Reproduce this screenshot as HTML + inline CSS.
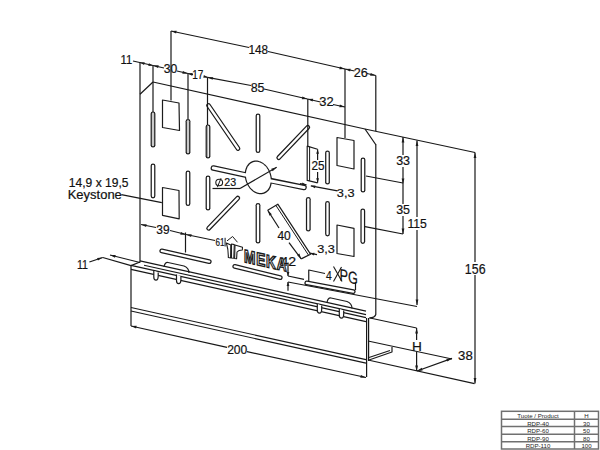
<!DOCTYPE html>
<html><head><meta charset="utf-8"><style>
html,body{margin:0;padding:0;background:#fff;}
svg{display:block;}
text{font-family:"Liberation Sans",sans-serif;fill:#111;stroke:#111;stroke-width:0.2px;}
</style></head><body>
<svg width="600" height="450" viewBox="0 0 600 450">
<rect width="600" height="450" fill="#fff"/>
<line x1="153" y1="82" x2="365" y2="129" stroke="#181818" stroke-width="1.2"/>
<line x1="153" y1="82" x2="140" y2="94.3" stroke="#181818" stroke-width="1.2"/>
<line x1="140" y1="62" x2="140" y2="262.5" stroke="#181818" stroke-width="1.2"/>
<line x1="365" y1="129" x2="376" y2="145" stroke="#181818" stroke-width="1.2"/>
<line x1="375.8" y1="75.5" x2="375.8" y2="131" stroke="#181818" stroke-width="1.2"/>
<line x1="375.8" y1="144.5" x2="375.8" y2="314" stroke="#181818" stroke-width="1.2"/>
<line x1="365" y1="129" x2="475" y2="152.5" stroke="#181818" stroke-width="1.2"/>
<path d="M162.5,100 L179,103 L179.5,130.5 L162.5,127.5 Z" stroke="#1c1c1c" stroke-width="1.2" fill="none" stroke-linejoin="round"/>
<path d="M162.5,187.5 L179,190.5 L179.2,218.8 L162.5,215.3 Z" stroke="#1c1c1c" stroke-width="1.2" fill="none" stroke-linejoin="round"/>
<path d="M337,137.5 L354,140.5 L354,169 L337,165.5 Z" stroke="#1c1c1c" stroke-width="1.2" fill="none" stroke-linejoin="round"/>
<path d="M337,225 L354,228.3 L354,256.5 L337,253.5 Z" stroke="#1c1c1c" stroke-width="1.2" fill="none" stroke-linejoin="round"/>
<line x1="153.0" y1="113.8" x2="153.0" y2="145.2" stroke="#1c1c1c" stroke-width="4.8" stroke-linecap="round"/>
<line x1="153.0" y1="113.8" x2="153.0" y2="145.2" stroke="#fff" stroke-width="2.3" stroke-linecap="round"/>
<line x1="188.0" y1="121.3" x2="188.0" y2="152.2" stroke="#1c1c1c" stroke-width="4.8" stroke-linecap="round"/>
<line x1="188.0" y1="121.3" x2="188.0" y2="152.2" stroke="#fff" stroke-width="2.3" stroke-linecap="round"/>
<line x1="208.0" y1="126.8" x2="208.0" y2="156.2" stroke="#1c1c1c" stroke-width="4.8" stroke-linecap="round"/>
<line x1="208.0" y1="126.8" x2="208.0" y2="156.2" stroke="#fff" stroke-width="2.3" stroke-linecap="round"/>
<line x1="258.0" y1="115.8" x2="258.0" y2="150.7" stroke="#1c1c1c" stroke-width="4.8" stroke-linecap="round"/>
<line x1="258.0" y1="115.8" x2="258.0" y2="150.7" stroke="#fff" stroke-width="2.3" stroke-linecap="round"/>
<line x1="327.5" y1="152.8" x2="327.5" y2="182.2" stroke="#1c1c1c" stroke-width="4.8" stroke-linecap="round"/>
<line x1="327.5" y1="152.8" x2="327.5" y2="182.2" stroke="#fff" stroke-width="2.3" stroke-linecap="round"/>
<line x1="363.0" y1="159.8" x2="363.0" y2="190.2" stroke="#1c1c1c" stroke-width="4.8" stroke-linecap="round"/>
<line x1="363.0" y1="159.8" x2="363.0" y2="190.2" stroke="#fff" stroke-width="2.3" stroke-linecap="round"/>
<line x1="153.0" y1="165.8" x2="153.0" y2="196.0" stroke="#1c1c1c" stroke-width="4.8" stroke-linecap="round"/>
<line x1="153.0" y1="165.8" x2="153.0" y2="196.0" stroke="#fff" stroke-width="2.3" stroke-linecap="round"/>
<line x1="188.0" y1="172.8" x2="188.0" y2="203.7" stroke="#1c1c1c" stroke-width="4.8" stroke-linecap="round"/>
<line x1="188.0" y1="172.8" x2="188.0" y2="203.7" stroke="#fff" stroke-width="2.3" stroke-linecap="round"/>
<line x1="208.0" y1="177.8" x2="208.0" y2="208.2" stroke="#1c1c1c" stroke-width="4.8" stroke-linecap="round"/>
<line x1="208.0" y1="177.8" x2="208.0" y2="208.2" stroke="#fff" stroke-width="2.3" stroke-linecap="round"/>
<line x1="258.0" y1="205.3" x2="258.0" y2="241.2" stroke="#1c1c1c" stroke-width="4.8" stroke-linecap="round"/>
<line x1="258.0" y1="205.3" x2="258.0" y2="241.2" stroke="#fff" stroke-width="2.3" stroke-linecap="round"/>
<line x1="308.3" y1="199.3" x2="308.3" y2="229.2" stroke="#1c1c1c" stroke-width="4.8" stroke-linecap="round"/>
<line x1="308.3" y1="199.3" x2="308.3" y2="229.2" stroke="#fff" stroke-width="2.3" stroke-linecap="round"/>
<line x1="327.5" y1="203.5" x2="327.5" y2="234.0" stroke="#1c1c1c" stroke-width="4.8" stroke-linecap="round"/>
<line x1="327.5" y1="203.5" x2="327.5" y2="234.0" stroke="#fff" stroke-width="2.3" stroke-linecap="round"/>
<line x1="362.8" y1="210.8" x2="362.8" y2="241.5" stroke="#1c1c1c" stroke-width="4.8" stroke-linecap="round"/>
<line x1="362.8" y1="210.8" x2="362.8" y2="241.5" stroke="#fff" stroke-width="2.3" stroke-linecap="round"/>
<path d="M317.6,149.2 L307.2,146.1 L307.2,180.4 L317.6,182.8" stroke="#1c1c1c" stroke-width="1.2" fill="none" stroke-linejoin="round"/>
<line x1="309.6" y1="146.6" x2="309.6" y2="180.9" stroke="#181818" stroke-width="1.0"/>
<line x1="208.52" y1="105.49" x2="237.98" y2="148.51" stroke="#1c1c1c" stroke-width="4.8" stroke-linecap="round"/>
<line x1="208.52" y1="105.49" x2="237.98" y2="148.51" stroke="#fff" stroke-width="2.3" stroke-linecap="round"/>
<line x1="307.76" y1="127.3" x2="278.74" y2="157.7" stroke="#1c1c1c" stroke-width="4.8" stroke-linecap="round"/>
<line x1="307.76" y1="127.3" x2="278.74" y2="157.7" stroke="#fff" stroke-width="2.3" stroke-linecap="round"/>
<line x1="237.75" y1="198.1" x2="208.65" y2="228.3" stroke="#1c1c1c" stroke-width="4.8" stroke-linecap="round"/>
<line x1="237.75" y1="198.1" x2="208.65" y2="228.3" stroke="#fff" stroke-width="2.3" stroke-linecap="round"/>
<path d="M267.7,210.3 L277.8,204.2 L310.5,254.2 L301.2,258.9" stroke="#1c1c1c" stroke-width="1.2" fill="none" stroke-linejoin="round"/>
<line x1="275.9" y1="205.4" x2="308.6" y2="255.3" stroke="#181818" stroke-width="1.0"/>
<line x1="213.4" y1="168" x2="250" y2="175.9" stroke="#1c1c1c" stroke-width="5.6" stroke-linecap="round"/>
<line x1="268" y1="180" x2="304" y2="187.5" stroke="#1c1c1c" stroke-width="5.6" stroke-linecap="round"/>
<path d="M271.9,180.42 L271.85,181.85 L271.69,183.26 L271.44,184.61 L271.08,185.91 L270.63,187.15 L270.08,188.31 L269.44,189.39 L268.72,190.38 L267.92,191.27 L267.04,192.06 L266.1,192.73 L265.1,193.29 L264.05,193.72 L262.95,194.03 L261.82,194.22 L260.66,194.27 L259.49,194.2 L258.3,194.0 L257.11,193.67 L255.94,193.22 L254.78,192.65 L253.65,191.97 L252.55,191.17 L251.5,190.27 L250.5,189.27 L249.56,188.18 L248.68,187.0 L247.88,185.76 L247.16,184.45 L246.52,183.09 L245.97,181.68 L245.52,180.24 L245.16,178.78 L244.91,177.31 L244.75,175.84 L244.7,174.38 L244.75,172.95 L244.91,171.54 L245.16,170.19 L245.52,168.89 L245.97,167.65 L246.52,166.49 L247.16,165.41 L247.88,164.42 L248.68,163.53 L249.56,162.74 L250.5,162.07 L251.5,161.51 L252.55,161.08 L253.65,160.77 L254.78,160.58 L255.94,160.53 L257.11,160.6 L258.3,160.8 L259.49,161.13 L260.66,161.58 L261.82,162.15 L262.95,162.83 L264.05,163.63 L265.1,164.53 L266.1,165.53 L267.04,166.62 L267.92,167.8 L268.72,169.04 L269.44,170.35 L270.08,171.71 L270.63,173.12 L271.08,174.56 L271.44,176.02 L271.69,177.49 L271.85,178.96 Z" fill="#1c1c1c"/>
<path d="M270.7,180.15 L270.65,181.48 L270.51,182.79 L270.28,184.04 L269.95,185.25 L269.54,186.4 L269.04,187.48 L268.46,188.49 L267.8,189.41 L267.07,190.24 L266.27,190.97 L265.41,191.59 L264.5,192.11 L263.54,192.52 L262.54,192.81 L261.51,192.99 L260.45,193.04 L259.38,192.98 L258.3,192.8 L257.22,192.5 L256.15,192.09 L255.09,191.56 L254.06,190.93 L253.06,190.19 L252.1,189.36 L251.19,188.44 L250.33,187.43 L249.53,186.34 L248.8,185.19 L248.14,183.98 L247.56,182.72 L247.06,181.41 L246.65,180.08 L246.32,178.73 L246.09,177.36 L245.95,176.0 L245.9,174.65 L245.95,173.32 L246.09,172.01 L246.32,170.76 L246.65,169.55 L247.06,168.4 L247.56,167.32 L248.14,166.31 L248.8,165.39 L249.53,164.56 L250.33,163.83 L251.19,163.21 L252.1,162.69 L253.06,162.28 L254.06,161.99 L255.09,161.81 L256.15,161.76 L257.22,161.82 L258.3,162.0 L259.38,162.3 L260.45,162.71 L261.51,163.24 L262.54,163.87 L263.54,164.61 L264.5,165.44 L265.41,166.36 L266.27,167.37 L267.07,168.46 L267.8,169.61 L268.46,170.82 L269.04,172.08 L269.54,173.39 L269.95,174.72 L270.28,176.07 L270.51,177.44 L270.65,178.8 Z" fill="#fff"/>
<line x1="213.4" y1="168" x2="250" y2="175.9" stroke="#fff" stroke-width="3.2" stroke-linecap="round"/>
<line x1="266" y1="180" x2="304" y2="187.5" stroke="#fff" stroke-width="3.2" stroke-linecap="round"/>
<line x1="161.76" y1="250.9" x2="209.24" y2="261.6" stroke="#1c1c1c" stroke-width="4.8" stroke-linecap="round"/>
<line x1="161.76" y1="250.9" x2="209.24" y2="261.6" stroke="#fff" stroke-width="2.3" stroke-linecap="round"/>
<line x1="234.75" y1="266.43" x2="280.25" y2="277.57" stroke="#1c1c1c" stroke-width="4.8" stroke-linecap="round"/>
<line x1="234.75" y1="266.43" x2="280.25" y2="277.57" stroke="#fff" stroke-width="2.3" stroke-linecap="round"/>
<line x1="306.77" y1="282.84" x2="353.23" y2="291.66" stroke="#1c1c1c" stroke-width="4.8" stroke-linecap="round"/>
<line x1="306.77" y1="282.84" x2="353.23" y2="291.66" stroke="#fff" stroke-width="2.3" stroke-linecap="round"/>
<line x1="140" y1="260.9" x2="366" y2="311.072" stroke="#181818" stroke-width="1.2"/>
<line x1="144" y1="265.288" x2="366" y2="314.572" stroke="#181818" stroke-width="1.2"/>
<line x1="131" y1="265.402" x2="366" y2="317.572" stroke="#181818" stroke-width="1.2"/>
<line x1="131" y1="269.402" x2="366" y2="321.572" stroke="#181818" stroke-width="1.2"/>
<line x1="131" y1="265.6" x2="140" y2="262" stroke="#181818" stroke-width="1.2"/>
<line x1="131" y1="265.6" x2="131" y2="326" stroke="#181818" stroke-width="1.2"/>
<line x1="131" y1="307.5" x2="366" y2="359.67" stroke="#181818" stroke-width="1.2"/>
<line x1="131" y1="311" x2="366" y2="363.17" stroke="#181818" stroke-width="1.2"/>
<line x1="131" y1="326" x2="227" y2="347.3" stroke="#181818" stroke-width="1.2"/>
<line x1="247" y1="351.7" x2="366" y2="377.5" stroke="#181818" stroke-width="1.2"/>
<path d="M131.00,326.00 L136.67,325.83 L136.07,328.56 Z" fill="#1c1c1c"/>
<path d="M366.00,377.50 L360.33,377.67 L360.93,374.94 Z" fill="#1c1c1c"/>
<text transform="translate(227.14,354.00) scale(0.929,1)" x="0" y="0" font-size="13.05" >200</text>
<line x1="366.6" y1="318" x2="366.6" y2="377" stroke="#181818" stroke-width="1.2"/>
<line x1="368.6" y1="318" x2="368.6" y2="361" stroke="#181818" stroke-width="1.2"/>
<path d="M376,314 Q375,318 369,318" stroke="#1c1c1c" stroke-width="1.2" fill="none" stroke-linejoin="round"/>
<line x1="370" y1="318" x2="416.6" y2="328" stroke="#181818" stroke-width="1.2"/>
<line x1="368" y1="341" x2="452" y2="359" stroke="#181818" stroke-width="1.2"/>
<line x1="368" y1="360" x2="474.5" y2="383.6" stroke="#181818" stroke-width="1.2"/>
<path d="M369,360 L392,352 L392,347" stroke="#1c1c1c" stroke-width="1.2" fill="none" stroke-linejoin="round"/>
<path d="M369,357.5 L390,350.5" stroke="#1c1c1c" stroke-width="1.2" fill="none" stroke-linejoin="round"/>
<path d="M164,267 Q165,262 168,262.5 L184,266 Q189,268 189,273" stroke="#1c1c1c" stroke-width="1.2" fill="none" stroke-linejoin="round"/>
<path d="M327,302.5 Q328,297.5 331,298.0 L347,301.5 Q352,303.5 352,308.5" stroke="#1c1c1c" stroke-width="1.2" fill="none" stroke-linejoin="round"/>
<path d="M153.8,271 L153.8,277 Q153.8,280.2 156,280.2 Q158.2,280.2 158.2,276 L158.2,272.5" stroke="#1c1c1c" stroke-width="1.2" fill="#fff" stroke-linejoin="round"/>
<path d="M176.5,274.5 L176.5,280.5 Q176.5,283.7 178.7,283.7 Q180.89999999999998,283.7 180.89999999999998,279.5 L180.89999999999998,276.0" stroke="#1c1c1c" stroke-width="1.2" fill="#fff" stroke-linejoin="round"/>
<path d="M317.3,304 L317.3,310 Q317.3,313.2 319.5,313.2 Q321.7,313.2 321.7,309 L321.7,305.5" stroke="#1c1c1c" stroke-width="1.2" fill="#fff" stroke-linejoin="round"/>
<path d="M339.3,309 L339.3,315 Q339.3,318.2 341.5,318.2 Q343.7,318.2 343.7,314 L343.7,310.5" stroke="#1c1c1c" stroke-width="1.2" fill="#fff" stroke-linejoin="round"/>
<line x1="133" y1="61" x2="153" y2="65.5" stroke="#181818" stroke-width="1.2"/>
<path d="M140.00,62.60 L144.70,62.21 L144.09,64.94 Z" fill="#1c1c1c"/>
<path d="M153.00,65.50 L148.30,65.89 L148.91,63.16 Z" fill="#1c1c1c"/>
<path d="M153.00,65.50 L158.67,65.33 L158.07,68.06 Z" fill="#1c1c1c"/>
<line x1="153" y1="65.5" x2="164" y2="68" stroke="#181818" stroke-width="1.2"/>
<line x1="177" y1="71" x2="188" y2="73.5" stroke="#181818" stroke-width="1.2"/>
<path d="M188.00,73.50 L182.33,73.67 L182.93,70.94 Z" fill="#1c1c1c"/>
<path d="M188.00,73.50 L192.70,73.11 L192.09,75.84 Z" fill="#1c1c1c"/>
<line x1="188" y1="73.5" x2="193" y2="74.6" stroke="#181818" stroke-width="1.2"/>
<line x1="204" y1="76.5" x2="207.5" y2="77.3" stroke="#181818" stroke-width="1.2"/>
<path d="M207.50,77.30 L213.17,77.13 L212.57,79.86 Z" fill="#1c1c1c"/>
<path d="M207.50,77.30 L203.29,77.80 L203.90,75.07 Z" fill="#1c1c1c"/>
<line x1="207.5" y1="77.3" x2="251" y2="85.5" stroke="#181818" stroke-width="1.2"/>
<line x1="264" y1="89" x2="307.5" y2="99" stroke="#181818" stroke-width="1.2"/>
<path d="M307.50,99.00 L301.83,99.17 L302.43,96.44 Z" fill="#1c1c1c"/>
<path d="M307.50,99.00 L313.17,98.83 L312.57,101.56 Z" fill="#1c1c1c"/>
<line x1="307.5" y1="99" x2="320.5" y2="102" stroke="#181818" stroke-width="1.2"/>
<line x1="333" y1="104.5" x2="345" y2="107" stroke="#181818" stroke-width="1.2"/>
<path d="M345.00,107.00 L339.33,107.17 L339.93,104.44 Z" fill="#1c1c1c"/>
<line x1="171" y1="31" x2="249" y2="47.5" stroke="#181818" stroke-width="1.2"/>
<line x1="268" y1="51.5" x2="345" y2="69" stroke="#181818" stroke-width="1.2"/>
<path d="M171.00,31.00 L176.67,30.83 L176.07,33.56 Z" fill="#1c1c1c"/>
<path d="M345.00,69.00 L339.33,69.17 L339.93,66.44 Z" fill="#1c1c1c"/>
<line x1="345" y1="69" x2="354.5" y2="71" stroke="#181818" stroke-width="1.2"/>
<line x1="367" y1="73.5" x2="375.8" y2="75.5" stroke="#181818" stroke-width="1.2"/>
<path d="M375.80,75.50 L370.13,75.67 L370.73,72.94 Z" fill="#1c1c1c"/>
<path d="M345.00,69.00 L350.67,68.83 L350.07,71.56 Z" fill="#1c1c1c"/>
<text transform="translate(120.46,63.50) scale(0.932,1)" x="0" y="0" font-size="12.07" >11</text>
<text transform="translate(163.64,73.20) scale(0.987,1)" x="0" y="0" font-size="12.33" >30</text>
<text transform="translate(192.25,79.30) scale(0.794,1)" x="0" y="0" font-size="12.65" >17</text>
<text transform="translate(250.67,92.40) scale(0.944,1)" x="0" y="0" font-size="13.19" >85</text>
<text transform="translate(319.32,106.40) scale(0.979,1)" x="0" y="0" font-size="13.19" >32</text>
<text transform="translate(248.42,54.40) scale(0.881,1)" x="0" y="0" font-size="13.33" >148</text>
<text transform="translate(353.67,77.20) scale(0.961,1)" x="0" y="0" font-size="13.19" >26</text>
<line x1="153" y1="65.5" x2="153" y2="112" stroke="#181818" stroke-width="1.2"/>
<line x1="171" y1="31" x2="171" y2="100.5" stroke="#181818" stroke-width="1.2"/>
<line x1="188" y1="73.5" x2="188" y2="119.5" stroke="#181818" stroke-width="1.2"/>
<line x1="207.5" y1="77.3" x2="207.5" y2="125" stroke="#181818" stroke-width="1.2"/>
<line x1="153" y1="112" x2="153" y2="146" stroke="#888" stroke-width="0.9"/>
<line x1="188" y1="119.5" x2="188" y2="153" stroke="#888" stroke-width="0.9"/>
<line x1="207.7" y1="125" x2="207.7" y2="157" stroke="#888" stroke-width="0.9"/>
<line x1="307.8" y1="99" x2="307.8" y2="146.2" stroke="#181818" stroke-width="1.2"/>
<line x1="345" y1="69" x2="345" y2="138" stroke="#181818" stroke-width="1.2"/>
<line x1="403" y1="137" x2="403" y2="155" stroke="#181818" stroke-width="1.2"/>
<line x1="403" y1="167" x2="403" y2="204" stroke="#181818" stroke-width="1.2"/>
<line x1="403" y1="216" x2="403" y2="234" stroke="#181818" stroke-width="1.2"/>
<path d="M403.00,137.00 L404.40,142.50 L401.60,142.50 Z" fill="#1c1c1c"/>
<path d="M403.00,184.00 L401.60,178.50 L404.40,178.50 Z" fill="#1c1c1c"/>
<path d="M403.00,234.00 L401.60,228.50 L404.40,228.50 Z" fill="#1c1c1c"/>
<line x1="366" y1="176" x2="403" y2="183" stroke="#181818" stroke-width="1.2"/>
<line x1="365" y1="226.7" x2="403" y2="234" stroke="#181818" stroke-width="1.2"/>
<text transform="translate(396.13,165.00) scale(0.993,1)" x="0" y="0" font-size="12.62" >33</text>
<text transform="translate(396.13,214.20) scale(0.968,1)" x="0" y="0" font-size="12.90" >35</text>
<line x1="417" y1="140.5" x2="417" y2="217" stroke="#181818" stroke-width="1.2"/>
<line x1="417" y1="230" x2="417" y2="305" stroke="#181818" stroke-width="1.2"/>
<path d="M417.00,140.50 L418.40,146.00 L415.60,146.00 Z" fill="#1c1c1c"/>
<path d="M417.00,305.00 L415.60,299.50 L418.40,299.50 Z" fill="#1c1c1c"/>
<line x1="288" y1="282" x2="417" y2="306.5" stroke="#181818" stroke-width="1.2"/>
<text transform="translate(407.39,227.90) scale(0.941,1)" x="0" y="0" font-size="12.95" >115</text>
<line x1="475" y1="152.5" x2="475" y2="262" stroke="#181818" stroke-width="1.2"/>
<line x1="475" y1="275" x2="475" y2="383.6" stroke="#181818" stroke-width="1.2"/>
<path d="M475.00,152.50 L476.40,158.00 L473.60,158.00 Z" fill="#1c1c1c"/>
<path d="M475.00,383.60 L473.60,378.10 L476.40,378.10 Z" fill="#1c1c1c"/>
<text transform="translate(464.87,273.50) scale(0.900,1)" x="0" y="0" font-size="13.76" >156</text>
<line x1="416.6" y1="328" x2="416.6" y2="340" stroke="#181818" stroke-width="1.2"/>
<line x1="416.6" y1="352" x2="416.6" y2="371" stroke="#181818" stroke-width="1.2"/>
<path d="M416.60,328.00 L418.00,333.50 L415.20,333.50 Z" fill="#1c1c1c"/>
<path d="M416.60,371.00 L415.20,365.50 L418.00,365.50 Z" fill="#1c1c1c"/>
<text transform="translate(412.08,350.60) scale(1.065,1)" x="0" y="0" font-size="12.80" >H</text>
<line x1="417" y1="371" x2="452" y2="358.4" stroke="#181818" stroke-width="1.2"/>
<path d="M452.00,358.40 L447.30,361.58 L446.35,358.95 Z" fill="#1c1c1c"/>
<path d="M417.00,371.00 L421.70,367.82 L422.65,370.45 Z" fill="#1c1c1c"/>
<text transform="translate(458.10,360.10) scale(1.047,1)" x="0" y="0" font-size="12.62" >38</text>
<line x1="141" y1="224.5" x2="156" y2="227.5" stroke="#181818" stroke-width="1.2"/>
<path d="M141.00,224.50 L146.67,224.33 L146.07,227.06 Z" fill="#1c1c1c"/>
<text transform="translate(156.25,233.70) scale(0.938,1)" x="0" y="0" font-size="12.76" >39</text>
<line x1="170" y1="230.5" x2="186" y2="234.5" stroke="#181818" stroke-width="1.2"/>
<path d="M186.00,234.50 L180.33,234.67 L180.93,231.94 Z" fill="#1c1c1c"/>
<line x1="185.5" y1="232.5" x2="185.5" y2="252.5" stroke="#181818" stroke-width="1.2"/>
<line x1="186" y1="234.5" x2="215" y2="240.5" stroke="#181818" stroke-width="1.2"/>
<path d="M186.00,234.50 L191.67,234.33 L191.07,237.06 Z" fill="#1c1c1c"/>
<text transform="translate(215.60,246.30) scale(0.753,1)" x="0" y="0" font-size="10.75" >61</text>
<text transform="translate(76.95,268.50) scale(0.862,1)" x="0" y="0" font-size="12.36" >11</text>
<line x1="89.4" y1="262" x2="102.75" y2="257.5" stroke="#181818" stroke-width="1.2"/>
<line x1="102.75" y1="257.5" x2="131" y2="265.6" stroke="#181818" stroke-width="1.2"/>
<line x1="110" y1="255" x2="140" y2="262.5" stroke="#181818" stroke-width="1.2"/>
<path d="M110.00,255.00 L115.68,254.98 L115.00,257.69 Z" fill="#1c1c1c"/>
<path d="M102.75,257.50 L97.97,260.55 L97.09,257.89 Z" fill="#1c1c1c"/>
<line x1="317.6" y1="149.2" x2="317.6" y2="160" stroke="#181818" stroke-width="1.2"/>
<line x1="317.6" y1="172" x2="317.6" y2="182.8" stroke="#181818" stroke-width="1.2"/>
<path d="M317.60,149.20 L319.00,153.70 L316.20,153.70 Z" fill="#1c1c1c"/>
<path d="M317.60,182.80 L316.20,178.30 L319.00,178.30 Z" fill="#1c1c1c"/>
<text transform="translate(311.41,170.40) scale(0.902,1)" x="0" y="0" font-size="13.05" >25</text>
<line x1="310.8" y1="185.8" x2="337.5" y2="190.8" stroke="#181818" stroke-width="1.2"/>
<path d="M310.80,185.80 L315.50,185.41 L314.89,188.14 Z" fill="#1c1c1c"/>
<line x1="300" y1="183.5" x2="306.5" y2="184.9" stroke="#181818" stroke-width="1.2"/>
<path d="M306.50,184.90 L301.80,185.29 L302.41,182.56 Z" fill="#1c1c1c"/>
<text transform="translate(336.82,197.20) scale(1.126,1)" x="0" y="0" font-size="11.33" >3,3</text>
<text transform="translate(317.22,252.60) scale(1.119,1)" x="0" y="0" font-size="11.33" >3,3</text>
<line x1="309.8" y1="253.2" x2="317" y2="254.6" stroke="#181818" stroke-width="1.2"/>
<path d="M309.80,253.20 L314.49,252.71 L313.94,255.46 Z" fill="#1c1c1c"/>
<line x1="267.7" y1="210.3" x2="279" y2="228" stroke="#181818" stroke-width="1.2"/>
<line x1="289" y1="242.7" x2="301.2" y2="258.9" stroke="#181818" stroke-width="1.2"/>
<path d="M267.70,210.30 L271.85,214.17 L269.50,215.68 Z" fill="#1c1c1c"/>
<path d="M301.20,258.90 L297.05,255.03 L299.40,253.52 Z" fill="#1c1c1c"/>
<text transform="translate(277.43,239.60) scale(0.973,1)" x="0" y="0" font-size="12.33" >40</text>
<text transform="translate(280.48,265.50) scale(1.074,1)" x="0" y="0" font-size="13.19" >42</text>
<text transform="translate(224.37,186.00) scale(0.992,1)" x="0" y="0" font-size="10.75" >23</text>
<ellipse cx="219.2" cy="182.5" rx="3.4" ry="3.3" fill="none" stroke="#1c1c1c" stroke-width="1.1"/>
<line x1="217.4" y1="187.2" x2="221" y2="178.2" stroke="#181818" stroke-width="1.0"/>
<line x1="212.5" y1="188.5" x2="240" y2="188.5" stroke="#181818" stroke-width="1.2"/>
<line x1="240" y1="188.5" x2="276.7" y2="167.2" stroke="#181818" stroke-width="1.2"/>
<path d="M276.70,167.20 L272.64,171.17 L271.24,168.75 Z" fill="#1c1c1c"/>
<text transform="translate(68.84,186.70) scale(1.003,1)" x="0" y="0" font-size="12.04" >14,9 x 19,5</text>
<text transform="translate(67.68,198.90) scale(1.063,1)" x="0" y="0" font-size="12.22" >Keystone</text>
<line x1="121.3" y1="194.6" x2="161.8" y2="202.6" stroke="#181818" stroke-width="1.2"/>
<path d="M308.75,282 L308.75,270 L325,273.5" stroke="#1c1c1c" stroke-width="1.2" fill="none" stroke-linejoin="round"/>
<line x1="355.5" y1="282.5" x2="355.5" y2="290" stroke="#181818" stroke-width="1.2"/>
<text transform="translate(326.07,280.40) scale(0.814,1)" x="0" y="0" font-size="12.65" >4</text>
<line x1="333.5" y1="266.5" x2="342" y2="281.5" stroke="#181818" stroke-width="1.1"/>
<line x1="341.5" y1="267" x2="333.5" y2="281.5" stroke="#181818" stroke-width="1.1"/>
<text transform="translate(339.6,280.6) matrix(0.74,0.164,0,1,0,0)" x="0" y="0" font-size="17.2">PG</text>
<line x1="288" y1="262.5" x2="288" y2="276" stroke="#181818" stroke-width="1.2"/>
<line x1="288" y1="276" x2="304" y2="279.4" stroke="#181818" stroke-width="1.2"/>
<line x1="288" y1="282" x2="288" y2="290.7" stroke="#181818" stroke-width="1.2"/>
<path d="M288.00,276.00 L286.60,272.00 L289.40,272.00 Z" fill="#1c1c1c"/>
<path d="M288.00,282.00 L289.40,286.00 L286.60,286.00 Z" fill="#1c1c1c"/>
<g transform="translate(244,262) matrix(0.76,0.169,0,1,0,0)"><text x="0" y="0" font-size="18" font-weight="bold" style="fill:#fff;stroke:#1c1c1c;stroke-width:1.45" letter-spacing="1.0">MEKA</text></g>
<path d="M227,240.9 L232.6,236.5 L237.5,242.3" stroke="#1c1c1c" stroke-width="1.0" fill="none" stroke-linejoin="round"/>
<path d="M226.4,243 Q228.5,250 228.3,257.5 L230.6,258 L230.8,245 Z" stroke="#1c1c1c" stroke-width="1.1" fill="#fff" stroke-linejoin="round"/>
<path d="M231.5,244 L234.3,244.6 L233.8,258.3 L231.5,258 Z" stroke="#1c1c1c" stroke-width="1.1" fill="#fff" stroke-linejoin="round"/>
<path d="M235,245 L242.5,247.3 L242.3,250 Q238.5,250 237,252 L236.6,258.8 L234.6,258.5 Z" stroke="#1c1c1c" stroke-width="1.1" fill="#fff" stroke-linejoin="round"/>
<line x1="225.1" y1="237.8" x2="225.1" y2="246.5" stroke="#181818" stroke-width="1.0"/>
<g stroke="#707070" stroke-width="1.5" fill="none">
<rect x="501.5" y="411.3" width="97" height="37.7"/>
<line x1="574.5" y1="411.5" x2="574.5" y2="449"/>
<line x1="501.5" y1="419.3" x2="598.5" y2="419.3"/>
<line x1="501.5" y1="426.6" x2="598.5" y2="426.6"/>
<line x1="501.5" y1="434.3" x2="598.5" y2="434.3"/>
<line x1="501.5" y1="441.7" x2="598.5" y2="441.7"/>
</g>
<text x="538" y="418" font-size="6.1" text-anchor="middle" style="stroke:none;fill:#262626">Tuote / Product</text>
<text x="586.5" y="418" font-size="6.1" text-anchor="middle" style="stroke:none;fill:#262626">H</text>
<text x="538" y="425.5" font-size="6.1" text-anchor="middle" style="stroke:none;fill:#262626">RDP-40</text>
<text x="586.5" y="425.5" font-size="6.1" text-anchor="middle" style="stroke:none;fill:#262626">30</text>
<text x="538" y="433" font-size="6.1" text-anchor="middle" style="stroke:none;fill:#262626">RDP-60</text>
<text x="586.5" y="433" font-size="6.1" text-anchor="middle" style="stroke:none;fill:#262626">50</text>
<text x="538" y="440.5" font-size="6.1" text-anchor="middle" style="stroke:none;fill:#262626">RDP-90</text>
<text x="586.5" y="440.5" font-size="6.1" text-anchor="middle" style="stroke:none;fill:#262626">80</text>
<text x="538" y="448" font-size="6.1" text-anchor="middle" style="stroke:none;fill:#262626">RDP-110</text>
<text x="586.5" y="448" font-size="6.1" text-anchor="middle" style="stroke:none;fill:#262626">100</text>
</svg>
</body></html>
